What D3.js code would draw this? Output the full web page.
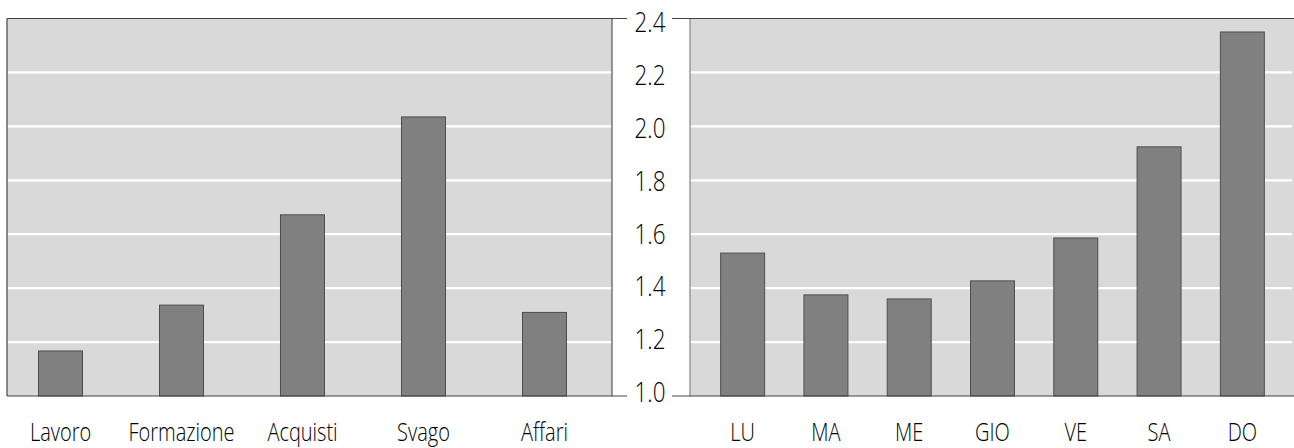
<!DOCTYPE html>
<html><head><meta charset="utf-8">
<script src="https://cdn.jsdelivr.net/npm/d3@7"></script>
<style>
html,body{margin:0;padding:0;background:#fff;}
svg{display:block;}
text{font-family:"Open Sans","Noto Sans",sans-serif;fill:#000;font-weight:300;}
</style></head>
<body>
<svg id="chart" width="1294" height="448"></svg>
<script>
// Data
const purposeCategories = ["Lavoro", "Formazione", "Acquisti", "Svago", "Affari"];
const purposeValues = [1.167, 1.337, 1.672, 2.035, 1.31];
const dayCategories = ["LU", "MA", "ME", "GIO", "VE", "SA", "DO"];
const dayValues = [1.53, 1.375, 1.36, 1.427, 1.586, 1.924, 2.35];
const tickValues = [1.0, 1.2, 1.4, 1.6, 1.8, 2.0, 2.2, 2.4];
const tickLabels = ["1.0", "1.2", "1.4", "1.6", "1.8", "2.0", "2.2", "2.4"];

const svg = d3.select("#chart");
const y = d3.scaleLinear().domain([1.0, 2.4]).range([396, 18.5]);
const yLabel = d3.scaleLinear().domain([1.0, 2.4]).range([392, 22]);
const condense = 0.8;

const left = {x0: 7, x1: 612};
const right = {x0: 690, x1: 1294};

const xL = d3.scaleBand().domain(purposeCategories).range([0, 605]).paddingInner(0.628).paddingOuter(0.314);
const xR = d3.scaleBand().domain(dayCategories).range([701, 1284]).paddingInner(0.46).paddingOuter(0.23);

// panel backgrounds
[left, right].forEach(p => {
  svg.append("rect").attr("x", p.x0).attr("y", y(2.4)).attr("width", p.x1 - p.x0)
    .attr("height", y(1.0) - y(2.4)).attr("fill", "#d9d9d9");
});

// white gridlines
const inner = tickValues.filter(v => v > 1.0 && v < 2.4);
svg.append("g").selectAll("line").data(inner).join("line")
  .attr("x1", left.x0).attr("x2", left.x1).attr("y1", d => y(d)).attr("y2", d => y(d))
  .attr("stroke", "#ffffff").attr("stroke-width", 2.2);
svg.append("g").selectAll("line").data(inner).join("line")
  .attr("x1", right.x0).attr("x2", 1292).attr("y1", d => y(d)).attr("y2", d => y(d))
  .attr("stroke", "#ffffff").attr("stroke-width", 2.2);

// bars
function bars(x, cats, vals) {
  svg.append("g").selectAll("rect").data(cats).join("rect")
    .attr("x", d => x(d) + 0.5)
    .attr("width", x.bandwidth() - 1)
    .attr("y", (d, i) => y(vals[i]))
    .attr("height", (d, i) => y(1.0) - y(vals[i]))
    .attr("fill", "#808080").attr("stroke", "#4d4d4d").attr("stroke-width", 1);
}
bars(xL, purposeCategories, purposeValues);
bars(xR, dayCategories, dayValues);

// borders
svg.append("line").attr("x1", left.x0).attr("x2", left.x0).attr("y1", y(2.4)).attr("y2", y(1.0))
  .attr("stroke", "#666").attr("stroke-width", 1.5);
svg.append("line").attr("x1", left.x1).attr("x2", left.x1).attr("y1", y(2.4)).attr("y2", y(1.0))
  .attr("stroke", "#555").attr("stroke-width", 1.2);
svg.append("line").attr("x1", right.x0).attr("x2", right.x0).attr("y1", y(2.4)).attr("y2", y(1.0))
  .attr("stroke", "#999").attr("stroke-width", 1.5);

// top & bottom lines with tick segments
[2.4, 1.0].forEach(v => {
  svg.append("line").attr("x1", left.x0).attr("x2", 627).attr("y1", y(v)).attr("y2", y(v))
    .attr("stroke", "#444").attr("stroke-width", 1.2);
  svg.append("line").attr("x1", 672).attr("x2", right.x1).attr("y1", y(v)).attr("y2", y(v))
    .attr("stroke", "#444").attr("stroke-width", 1.2);
});

// y tick labels
svg.append("g").selectAll("text").data(tickValues).join("text")
  .attr("transform", d => `translate(650,${yLabel(d)}) scale(${condense},1)`)
  .attr("dy", "0.36em")
  .attr("text-anchor", "middle")
  .attr("font-size", 28)
  .text((d, i) => tickLabels[i]);

// category labels
function catLabels(x, cats) {
  svg.append("g").selectAll("text").data(cats).join("text")
    .attr("transform", d => `translate(${x(d) + x.bandwidth() / 2},441) scale(${condense},1)`)
    .attr("text-anchor", "middle").attr("font-size", 25).text(d => d);
}
catLabels(xL, purposeCategories);
catLabels(xR, dayCategories);
</script>
</body></html>
